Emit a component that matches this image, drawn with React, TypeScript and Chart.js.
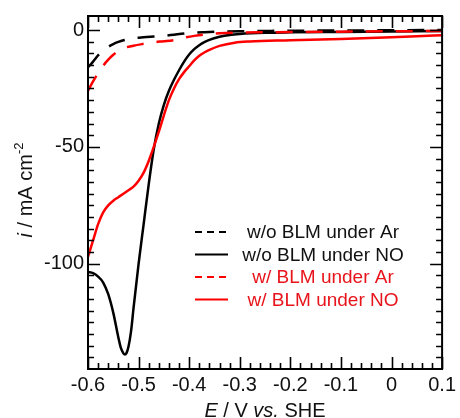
import React, { useEffect, useRef } from 'react';
import { Chart, registerables } from 'chart.js';

Chart.register(...registerables);

// w/o BLM under Ar (black dashed)
const E_woAr = [-0.6, -0.59, -0.58, -0.57, -0.56, -0.55, -0.54, -0.53, -0.51, -0.49, -0.47, -0.45, -0.43, -0.41, -0.39, -0.37, -0.34, -0.3, -0.25, -0.2, -0.1, 0, 0.1];
const I_woAr = [-16, -13.5, -10.8, -8.7, -7.2, -6.0, -5.1, -4.4, -3.5, -3.1, -2.8, -2.5, -2.0, -1.5, -1.1, -0.9, -0.7, -0.5, -0.4, -0.3, -0.2, -0.1, 0];

// w/o BLM under NO (black solid)
const E_woNO = [-0.6, -0.59, -0.58, -0.57, -0.56, -0.55, -0.54, -0.535, -0.53, -0.527, -0.524, -0.52, -0.515, -0.51, -0.5, -0.49, -0.48, -0.47, -0.46, -0.45, -0.44, -0.43, -0.42, -0.41, -0.4, -0.39, -0.38, -0.37, -0.36, -0.34, -0.32, -0.3, -0.25, -0.2, -0.1, 0, 0.1];
const I_woNO = [-103.5, -104, -105.5, -108, -113, -121, -131.5, -136, -138.3, -138.8, -138.2, -135.5, -129, -119, -100, -83, -66, -51, -40, -32, -26, -21.3, -17.2, -13.5, -10.5, -8.2, -6.5, -5.2, -4.2, -2.9, -2.1, -1.7, -1.2, -1.0, -0.8, -0.6, -0.4];

// w/ BLM under Ar (red dashed)
const E_wAr = [-0.6, -0.59, -0.58, -0.57, -0.56, -0.55, -0.54, -0.53, -0.51, -0.49, -0.47, -0.45, -0.43, -0.41, -0.39, -0.37, -0.34, -0.3, -0.25, -0.2, -0.1, 0, 0.1];
const I_wAr = [-26, -22, -18.5, -15.3, -12.7, -10.6, -9.0, -7.8, -6.7, -5.9, -5.2, -4.8, -4.3, -3.3, -2.5, -1.9, -1.4, -1.1, -0.95, -0.85, -0.7, -0.55, -0.4];

// w/ BLM under NO (red solid)
const E_wNO = [-0.6, -0.59, -0.58, -0.57, -0.56, -0.55, -0.54, -0.53, -0.52, -0.51, -0.5, -0.49, -0.48, -0.47, -0.46, -0.45, -0.44, -0.43, -0.42, -0.41, -0.4, -0.39, -0.38, -0.37, -0.36, -0.34, -0.31, -0.28, -0.2, -0.1, 0, 0.05, 0.1];
const I_wNO = [-97, -90, -83, -78, -75, -73, -71.5, -70, -68.5, -67, -64.5, -61, -56, -50, -43.5, -36.5, -30, -25, -21, -18, -15.5, -13, -11, -9.6, -8.5, -6.8, -5.4, -4.9, -4.4, -3.8, -3.1, -2.7, -2.2];

const xTickValues = [-0.6, -0.5, -0.4, -0.3, -0.2, -0.1, 0, 0.1];
const yTickValues = [-100, -50, 0];
const legendLabels = ['w/o BLM under Ar', 'w/o BLM under NO', 'w/ BLM under Ar', 'w/ BLM under NO'];

const BLACK = '#000000';
const RED = '#ff0000';
const RED_TEXT = '#e8141b';
const FONT = '"Liberation Sans", Arial, Helvetica, sans-serif';

const toPts = (xs: number[], ys: number[]) => xs.map((x, i) => ({ x, y: ys[i] }));

const decorPlugin = {
  id: 'decor',
  afterDraw(chart: any) {
    const { ctx, chartArea: a, scales } = chart;
    const xs = scales.x;
    const ys = scales.y;
    ctx.save();
    // inward ticks
    ctx.strokeStyle = '#000';
    ctx.lineWidth = 1.6;
    ctx.beginPath();
    for (let k = -30; k <= 5; k++) {
      const px = Math.round(xs.getPixelForValue(k / 50)) + 0.5;
      const len = k % 5 === 0 ? 12 : 6;
      ctx.moveTo(px, a.bottom);
      ctx.lineTo(px, a.bottom - len);
      ctx.moveTo(px, a.top);
      ctx.lineTo(px, a.top + len);
    }
    for (let k = -28; k <= 0; k++) {
      const py = Math.round(ys.getPixelForValue(k * 5)) + 0.5;
      const len = k % 10 === 0 ? 12 : 6;
      ctx.moveTo(a.left, py);
      ctx.lineTo(a.left + len, py);
      ctx.moveTo(a.right, py);
      ctx.lineTo(a.right - len, py);
    }
    ctx.stroke();
    // frame
    ctx.lineWidth = 2;
    ctx.strokeRect(a.left, a.top, a.right - a.left, a.bottom - a.top);

    // legend
    const rows = [232, 254.5, 277, 299.5];
    const styles = [
      { c: BLACK, t: '#111', dash: [7, 5] },
      { c: BLACK, t: '#111', dash: [] },
      { c: RED, t: RED_TEXT, dash: [7, 5] },
      { c: RED, t: RED_TEXT, dash: [] },
    ];
    ctx.font = `19px ${FONT}`;
    ctx.textAlign = 'center';
    ctx.textBaseline = 'middle';
    legendLabels.forEach((lab, i) => {
      const s = styles[i];
      ctx.strokeStyle = s.c;
      ctx.lineWidth = 2;
      ctx.setLineDash(s.dash);
      ctx.beginPath();
      ctx.moveTo(195, rows[i]);
      ctx.lineTo(228, rows[i]);
      ctx.stroke();
      ctx.setLineDash([]);
      ctx.fillStyle = s.t;
      ctx.fillText(lab, 323, rows[i] + 1);
    });

    // axis titles
    ctx.fillStyle = '#111';
    ctx.textBaseline = 'alphabetic';
    ctx.textAlign = 'left';
    const drawParts = (parts: { t: string; f: string; dy?: number }[], cx: number, baseY: number) => {
      let w = 0;
      parts.forEach((p) => { ctx.font = p.f; w += ctx.measureText(p.t).width; });
      let x0 = cx - w / 2;
      parts.forEach((p) => {
        ctx.font = p.f;
        ctx.fillText(p.t, x0, baseY + (p.dy || 0));
        x0 += ctx.measureText(p.t).width;
      });
    };
    drawParts([
      { t: 'E', f: `italic 20px ${FONT}` },
      { t: ' / V ', f: `20px ${FONT}` },
      { t: 'vs.', f: `italic 20px ${FONT}` },
      { t: ' SHE', f: `20px ${FONT}` },
    ], 265, 417);

    ctx.save();
    ctx.translate(32, 190);
    ctx.rotate(-Math.PI / 2);
    drawParts([
      { t: 'i', f: `italic 20px ${FONT}` },
      { t: ' / mA cm', f: `20px ${FONT}` },
      { t: '-2', f: `13px ${FONT}`, dy: -9 },
    ], 0, 0);
    ctx.restore();
    ctx.restore();
  },
};

export default function App() {
  const ref = useRef<HTMLCanvasElement | null>(null);
  useEffect(() => {
    if (!ref.current) return;
    const common = { showLine: true, pointRadius: 0, borderWidth: 2.5, cubicInterpolationMode: 'monotone' as const, fill: false };
    const chart = new Chart(ref.current, {
      type: 'scatter',
      data: {
        datasets: [
          { ...common, label: legendLabels[2], data: toPts(E_wAr, I_wAr), borderColor: RED, borderDash: [17, 13], order: 0 },
          { ...common, label: legendLabels[3], data: toPts(E_wNO, I_wNO), borderColor: RED, order: 1 },
          { ...common, label: legendLabels[1], data: toPts(E_woNO, I_woNO), borderColor: BLACK, order: 2 },
          { ...common, label: legendLabels[0], data: toPts(E_woAr, I_woAr), borderColor: BLACK, borderDash: [17, 13], order: 3 },
        ],
      },
      options: {
        responsive: false,
        animation: false,
        layout: { padding: { top: 15, right: 17, left: 0, bottom: 0 } },
        plugins: { legend: { display: false }, tooltip: { enabled: false }, title: { display: false } },
        scales: {
          x: {
            type: 'linear',
            min: -0.6,
            max: 0.1,
            grid: { display: false, drawTicks: false },
            border: { display: false },
            afterBuildTicks: (s: any) => { s.ticks = xTickValues.map((v) => ({ value: v })); },
            afterFit: (s: any) => { s.height = 49; },
            ticks: {
              autoSkip: false,
              maxRotation: 0,
              padding: 4,
              color: '#111',
              font: { family: FONT, size: 20 },
              callback: (v: any) => (Number(v) === 0 ? '0' : Number(v).toFixed(1)),
            },
          },
          y: {
            type: 'linear',
            min: -145,
            max: 6,
            grid: { display: false, drawTicks: false },
            border: { display: false },
            afterBuildTicks: (s: any) => { s.ticks = yTickValues.map((v) => ({ value: v })); },
            afterFit: (s: any) => { s.width = 88; },
            ticks: {
              autoSkip: false,
              padding: 4,
              color: '#111',
              font: { family: FONT, size: 20 },
              callback: (v: any) => String(Math.round(Number(v))),
            },
          },
        },
      },
      plugins: [decorPlugin],
    } as any);
    return () => chart.destroy();
  }, []);
  return (
    <div style={{ position: 'absolute', left: 0, top: 0, width: 460, height: 418, background: '#fff' }}>
      <canvas ref={ref} width={460} height={418} style={{ width: 460, height: 418, display: 'block' }} />
    </div>
  );
}
